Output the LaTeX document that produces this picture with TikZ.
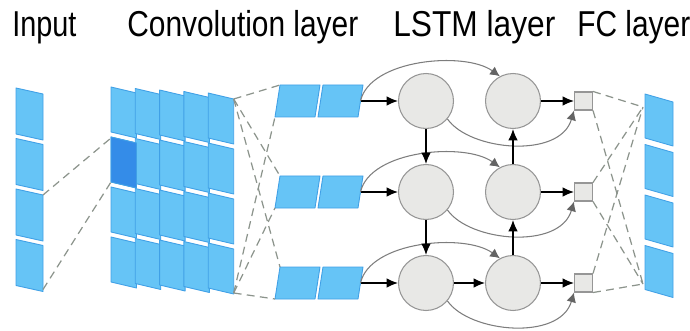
\documentclass[tikz,border=0pt]{standalone}
\usepackage{fontspec}
\setmainfont{Liberation Sans}
\usetikzlibrary{arrows.meta}

\definecolor{cellblue}{RGB}{102,196,246}
\definecolor{cellline}{RGB}{64,160,230}
\definecolor{hiblue}{RGB}{52,140,232}
\definecolor{nodegray}{RGB}{232,232,230}
\definecolor{nodeline}{RGB}{150,150,150}
\definecolor{dashgray}{RGB}{140,148,140}
\definecolor{arcgray}{RGB}{125,125,125}
\definecolor{tipgray}{RGB}{100,100,100}

\newcommand{\layertitle}[2][0.83]{\scalebox{#1}[1]{#2}}

\tikzset{
  cell/.style={fill=cellblue, draw=cellline, line width=0.5pt, line join=round},
  link/.style={draw=dashgray, dash pattern=on 4.5pt off 3pt, line width=0.7pt},
  unit/.style={circle, draw=nodeline, fill=nodegray, line width=0.6pt, minimum size=1.1cm, inner sep=0pt},
  fc/.style={rectangle, draw=nodeline, fill=nodegray, line width=0.6pt, minimum size=0.36cm, inner sep=0pt},
  flow/.style={-{Latex[length=6.5pt,width=5.5pt]}, line width=0.75pt},
  recur/.style={-{Latex[length=5.5pt,width=5.5pt,color=tipgray]}, draw=arcgray, line width=0.6pt},
  ttl/.style={anchor=base west, inner sep=0pt, font=\fontsize{20.5}{24}\selectfont}
}

\begin{document}
\begin{tikzpicture}[x=0.02cm, y=-0.02cm]
\useasboundingbox (0,0) rectangle (690,331);
% titles
\node[ttl] (tin) at (12,37) {\layertitle[0.8]{Input}};
\node[ttl] (tconv) at (127,37) {\layertitle{Convolution layer}};
\node[ttl] (tlstm) at (393,37) {\layertitle[0.88]{LSTM layer}};
\node[ttl] (tfc) at (577,37) {\layertitle{FC layer}};

% input column
\foreach \r in {1,...,4} {
  \pgfmathsetmacro\ya{88+50.5*(\r-1)}
  \filldraw[cell] (16,\ya) -- ++(27,6) -- ++(0,46) -- ++(-27,-6) -- cycle;
  \coordinate (in\r-ne) at (43,\ya+6);
  \coordinate (in\r-se) at (43,\ya+50);
}

% convolution layer
\foreach \c in {0,...,4} {
  \foreach \r in {0,...,3} {
    \pgfmathsetmacro\xa{111+24.3*\c}
    \pgfmathsetmacro\ya{87+1.5*\c+50*\r}
    \filldraw[cell] (\xa,\ya) -- ++(25.5,6) -- ++(0,45) -- ++(-25.5,-6) -- cycle;
  }
}
\filldraw[cell, fill=hiblue] (111,137) -- ++(25.5,6) -- ++(0,45) -- ++(-25.5,-6) -- cycle;
\coordinate (hl-nw) at (111,138);
\coordinate (hl-sw) at (111,182);
\coordinate (cv-ne) at (233.7,99);
\coordinate (cv-se) at (233.7,293);

% LSTM inputs, units and FC units
\foreach \r/\y in {1/101, 2/192, 3/283} {
  \foreach \k in {0,1} {
    \filldraw[cell] (275+43*\k,\y+16) -- ++(40,0) -- ++(5,-32) -- ++(-40,0) -- cycle;
  }
  \coordinate (p\r-nw) at (280,\y-16);
  \coordinate (p\r-sw) at (275,\y+16);
  \coordinate (x\r) at (360.5,\y);
  \node[unit] (a\r) at (426,\y) {};
  \node[unit] (b\r) at (513,\y) {};
  \node[fc] (f\r) at (583.5,\y) {};
}

% output column
\foreach \r in {0,...,3} {
  \pgfmathsetmacro\ya{94+50.5*\r}
  \filldraw[cell] (645,\ya) -- ++(28,8) -- ++(0,44) -- ++(-28,-8) -- cycle;
}
\coordinate (out-nw) at (643,107);
\coordinate (out-sw) at (643,284);

% dashed links
\draw[link] (in3-ne) -- (hl-nw);
\draw[link] (in4-se) -- (hl-sw);
\foreach \r in {1,2,3} {
  \draw[link] (cv-ne) -- (p\r-nw);
  \draw[link] (cv-se) -- (p\r-sw);
  \draw[link] (f\r.north east) -- (out-nw);
  \draw[link] (f\r.south east) -- (out-sw);
}

% arrows
\foreach \r/\y in {1/101, 2/192, 3/283} {
  \draw[flow] (x\r) -- (a\r);
  \draw[flow] (b\r) -- (f\r);
  \draw[recur] (x\r) .. controls (370,\y-42) and (465,\y-50) .. (b\r.118);
  \draw[recur] (a\r.-40) .. controls (470,\y+50) and (560,\y+58) .. (f\r.south west);
}
\draw[flow] (a1) -- (a2);
\draw[flow] (a2) -- (a3);
\draw[flow] (a3) -- (b3);
\draw[flow] (b3) -- (b2);
\draw[flow] (b2) -- (b1);
\end{tikzpicture}
\end{document}
